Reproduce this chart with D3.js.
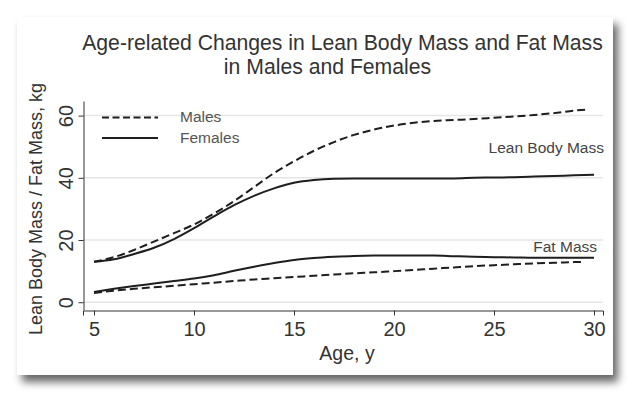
<!DOCTYPE html>
<html><head><meta charset="utf-8">
<script src="https://cdn.jsdelivr.net/npm/d3@7"></script>
<style>
html,body{margin:0;padding:0;background:#fff;}
svg{display:block;font-family:"Liberation Sans",Arial,Helvetica,sans-serif;}
</style></head>
<body><svg id="chart" width="641" height="404"></svg>
<script>
const titleLines = ["Age-related Changes in Lean Body Mass and Fat Mass", "in Males and Females"];
const xLabel = "Age, y";
const yLabel = "Lean Body Mass / Fat Mass, kg";
const xTicks = [5, 10, 15, 20, 25, 30];
const yTicks = [0, 20, 40, 60];
const seriesNames = ["Males", "Females"];

const agesMaleLean = [5,6,7,8,9,10,11,12,13,14,15,16,17,18,19,20,21,22,23,24,25,26,27,28,29,29.7];
const maleLean =     [13,14.5,16.8,19.5,22.2,25,28.5,32.5,37,41.5,45.3,48.7,51.5,53.8,55.5,56.8,57.7,58.3,58.6,58.9,59.3,59.7,60.2,60.8,61.6,62];
const agesFemaleLean = [5,6,7,8,9,10,11,12,13,14,15,16,17,18,19,20,21,22,23,24,25,26,27,28,29,30];
const femaleLean =     [13,13.8,15.5,17.5,20.3,23.8,27.6,31.2,34.2,36.6,38.4,39.3,39.7,39.8,39.8,39.8,39.8,39.8,39.8,40,40.1,40.2,40.4,40.6,40.8,41];
const agesFemaleFat = [5,6,7,8,9,10,11,12,13,14,15,16,17,18,19,20,21,22,23,24,25,26,27,28,29,30];
const femaleFat =     [3.3,4.3,5.2,6,6.8,7.6,8.7,10.1,11.4,12.6,13.6,14.2,14.6,14.9,15,15,15,15,14.8,14.6,14.5,14.4,14.3,14.3,14.3,14.3];
const agesMaleFat = [5,6,7,8,9,10,11,12,13,14,15,16,17,18,19,20,21,22,23,24,25,26,27,28,29,29.5];
const maleFat =     [3,3.7,4.3,4.8,5.3,5.8,6.3,6.8,7.3,7.7,8.1,8.5,8.9,9.3,9.6,10,10.4,10.8,11.2,11.6,11.9,12.2,12.5,12.7,12.9,13];

const svg = d3.select("#chart");
const defs = svg.append("defs");
const f = defs.append("filter").attr("id","shadow").attr("x","-10%").attr("y","-10%").attr("width","125%").attr("height","130%");
f.append("feDropShadow").attr("dx",5).attr("dy",7).attr("stdDeviation",4).attr("flood-color","#000").attr("flood-opacity",0.6);

svg.append("rect").attr("x",17).attr("y",17).attr("width",596).attr("height",358)
  .attr("fill","#fff").attr("filter","url(#shadow)");

const x = d3.scaleLinear().domain([4.45, 30.45]).range([83, 603]);
const y = d3.scaleLinear().domain([-2.5, 64.7]).range([310, 101]);

// gridlines
svg.append("g").selectAll("line").data(yTicks).join("line")
  .attr("x1",83).attr("x2",603).attr("y1",d=>y(d)).attr("y2",d=>y(d))
  .attr("stroke","#e6e6e6").attr("stroke-width",1.5);

// axes
const xAxis = svg.append("g").attr("transform","translate(0,310.5)")
  .call(d3.axisBottom(x).tickValues(xTicks).tickSize(5).tickPadding(6).tickFormat(d3.format("d")));
xAxis.select(".domain").attr("stroke","#333");
xAxis.selectAll(".tick line").attr("stroke","#333");
xAxis.selectAll("text").attr("font-size",20).attr("fill","#333").attr("font-family","Liberation Sans, Arial");

const yAxis = svg.append("g").attr("transform","translate(83.5,0)")
  .call(d3.axisLeft(y).tickValues(yTicks).tickSize(5).tickSizeOuter(0).tickFormat(d3.format("d")));
yAxis.select(".domain").attr("stroke","#333");
yAxis.selectAll(".tick line").attr("stroke","#333");
yAxis.selectAll("text").attr("font-size",20).attr("fill","#333").attr("font-family","Liberation Sans, Arial")
  .attr("x",0).attr("dy",0).attr("text-anchor","middle")
  .attr("transform","translate(-11,0) rotate(-90)");

// lines
const line = d3.line().x(d=>x(d[0])).y(d=>y(d[1])).curve(d3.curveMonotoneX);
const series = [
  {a: agesMaleLean, v: maleLean, dash: "8,4"},
  {a: agesFemaleLean, v: femaleLean, dash: null},
  {a: agesFemaleFat, v: femaleFat, dash: null},
  {a: agesMaleFat, v: maleFat, dash: "8,4"}
];
series.forEach(s=>{
  svg.append("path").datum(s.a.map((a,i)=>[a, s.v[i]]))
    .attr("d",line).attr("fill","none").attr("stroke","#1e1e1e").attr("stroke-width",2)
    .attr("stroke-dasharray", s.dash);
});

// legend
const legend = svg.append("g");
seriesNames.forEach((n,i)=>{
  const ly = 117.5 + i*20.5;
  legend.append("line").attr("x1",102).attr("x2",158).attr("y1",ly).attr("y2",ly)
    .attr("stroke","#1e1e1e").attr("stroke-width",2).attr("stroke-dasharray", i===0 ? "7,3.5" : null);
  legend.append("text").attr("x",180).attr("y",ly+4.5).text(n)
    .attr("font-size",15.5).attr("fill","#555");
});

// annotations
svg.append("text").attr("x",604).attr("y",152.5).attr("text-anchor","end")
  .attr("font-size",15.5).attr("fill","#444").text("Lean Body Mass");
svg.append("text").attr("x",597).attr("y",251.5).attr("text-anchor","end")
  .attr("font-size",15.5).attr("fill","#444").text("Fat Mass");

// titles
svg.append("text").attr("x",342.5).attr("y",50).attr("text-anchor","middle")
  .attr("font-size",21.2).attr("fill","#333").text(titleLines[0]);
svg.append("text").attr("x",327.5).attr("y",74).attr("text-anchor","middle")
  .attr("font-size",21.2).attr("fill","#333").text(titleLines[1]);

svg.append("text").attr("x",347).attr("y",360).attr("text-anchor","middle")
  .attr("font-size",19.5).attr("fill","#333").text(xLabel);
svg.append("text").attr("transform","translate(42,209) rotate(-90)").attr("text-anchor","middle")
  .attr("font-size",18).attr("fill","#333").text(yLabel);
</script></body></html>
